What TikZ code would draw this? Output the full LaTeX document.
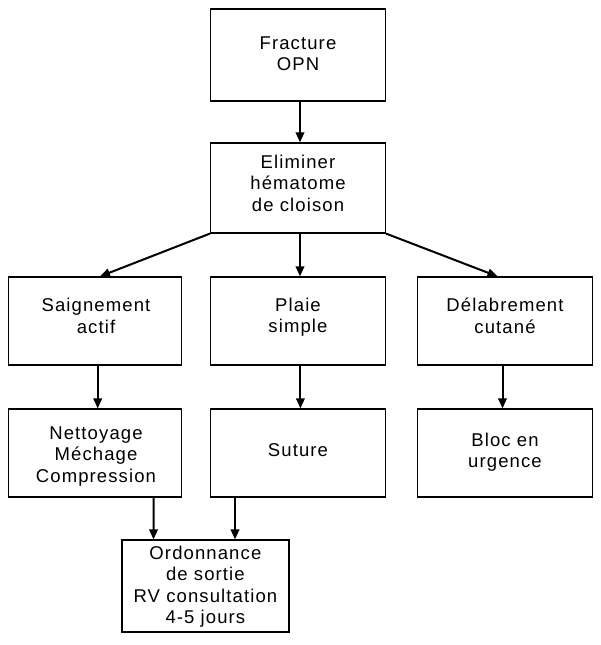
\documentclass[tikz,border=0pt]{standalone}
\usepackage{fontspec}
\setmainfont{Liberation Sans}[LetterSpace=6]
\usetikzlibrary{arrows.meta}
\begin{document}
\begin{tikzpicture}[x=1pt,y=-1pt,
  box/.style={draw=black,line width=1.2pt,rectangle,inner sep=0pt},
  wbox/.style={box,minimum width=175pt,minimum height=88pt},
  txt/.style={inner sep=0pt,align=center,font=\fontsize{18.5}{21.5}\selectfont},
  arr/.style={draw=black,line width=2pt,-{Triangle[length=10pt,width=8.5pt]}}]
\useasboundingbox[fill=white] (0,0) rectangle (600,645);
\node[box,minimum width=175pt,minimum height=92pt] (fr) at (298,55) {};
\node[box,minimum width=175pt,minimum height=90pt] (el) at (298,188) {};
\node[box,minimum width=173pt,minimum height=88pt] (sa) at (95,321) {};
\node[wbox] (pl) at (298,321) {};
\node[wbox] (de) at (505,321) {};
\node[box,minimum width=173pt,minimum height=88pt] (ne) at (95,453) {};
\node[wbox] (su) at (298,453) {};
\node[wbox] (bl) at (505,453) {};
\node[box,minimum width=167pt,minimum height=92pt] (or) at (205.4,586) {};
\node[txt] (frt) at (298,53.5) {Fracture\\OPN};
\node[txt] (elt) at (298,183) {Eliminer\\hématome\\de cloison};
\node[txt] (sat) at (96,316) {Saignement\\actif};
\node[txt] (plt) at (298,317) {Plaie\\simple};
\node[txt] (det) at (505,316) {Délabrement\\cutané};
\node[txt] (net) at (96,456.5) {Nettoyage\\Méchage\\Compression};
\node[txt] (sut) at (298,450) {Suture};
\node[txt] (blt) at (505,452) {Bloc en\\urgence};
\node[txt] (ort) at (205.4,586.5) {Ordonnance\\de sortie\\RV consultation\\4-5 jours};
\draw[arr] ([xshift=2pt]fr.south) -- ([xshift=2pt]el.north);
\draw[arr] (el.south west) -- ([xshift=5pt]sa.north);
\draw[arr] ([xshift=2pt]el.south) -- ([xshift=2pt]pl.north);
\draw[arr] (el.south east) -- ([xshift=-7.5pt]de.north);
\draw[arr] ([xshift=2.7pt]sa.south) -- ([xshift=2.7pt]ne.north);
\draw[arr] ([xshift=2.4pt]pl.south) -- ([xshift=2.4pt]su.north);
\draw[arr] ([xshift=-2.5pt]de.south) -- ([xshift=-2.5pt]bl.north);
\draw[arr] ([xshift=58.6pt]ne.south) -- ([xshift=-51.9pt]or.north);
\draw[arr] ([xshift=-63pt]su.south) -- ([xshift=29.6pt]or.north);
\end{tikzpicture}
\end{document}
